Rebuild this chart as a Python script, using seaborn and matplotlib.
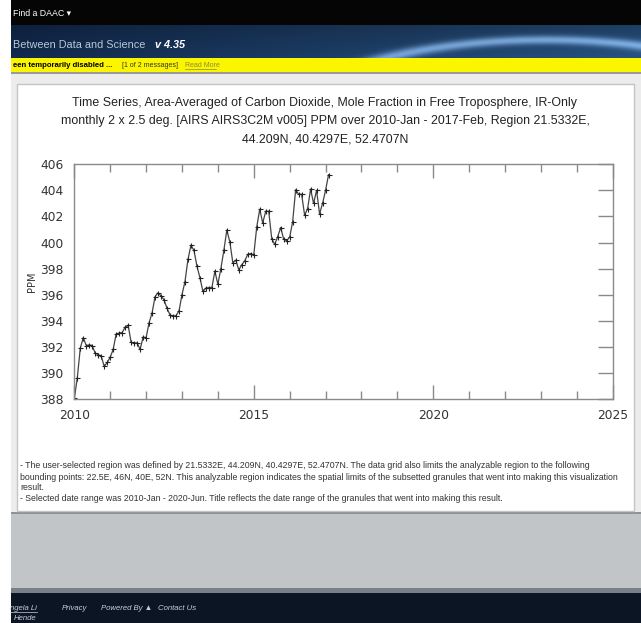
import numpy as np
import pandas as pd
import matplotlib
matplotlib.use("Agg")
import matplotlib.pyplot as plt
import seaborn as sns
from matplotlib.patches import Rectangle
from matplotlib.ticker import MultipleLocator, FixedLocator

# ---- data: monthly area-averaged CO2 (ppm), 2010-Jan .. 2017-Feb ----
start_month = "2010-01"
ppm = [
    388.05, 389.6, 391.9, 392.7, 392.1, 392.15, 392.1, 391.5, 391.4, 391.3, 390.5, 390.8,
    391.2, 391.8, 393.0, 393.05, 393.1, 393.5, 393.65, 392.35, 392.3, 392.3, 391.8, 392.75,
    392.7, 393.85, 394.6, 395.85, 396.15, 395.9, 395.6, 394.95, 394.45, 394.35, 394.4, 394.75,
    396.0, 397.0, 398.7, 399.8, 399.4, 398.2, 397.3, 396.25, 396.5, 396.55, 396.55, 397.8,
    396.8, 398.0, 399.4, 400.95, 400.05, 398.45, 398.65, 397.9, 398.3, 398.6, 399.1, 399.15,
    399.05, 401.2, 402.55, 401.5, 402.4, 402.4, 400.3, 399.85, 400.45, 401.15, 400.25, 400.15,
    400.4, 401.6, 404.05, 403.7, 403.7, 402.1, 402.6, 404.1, 403.0, 404.0, 402.2, 403.0,
    404.0, 405.2,
]
x_major = [2010, 2015, 2020, 2025]
y_ticks = [388, 390, 392, 394, 396, 398, 400, 402, 404, 406]

title_lines = [
    "Time Series, Area-Averaged of Carbon Dioxide, Mole Fraction in Free Troposphere, IR-Only",
    "monthly 2 x 2.5 deg. [AIRS AIRS3C2M v005] PPM over 2010-Jan - 2017-Feb, Region 21.5332E,",
    "44.209N, 40.4297E, 52.4707N",
]
notes = [
    "- The user-selected region was defined by 21.5332E, 44.209N, 40.4297E, 52.4707N. The data grid also limits the analyzable region to the following",
    "bounding points: 22.5E, 46N, 40E, 52N. This analyzable region indicates the spatial limits of the subsetted granules that went into making this visualization",
    "result.",
    "- Selected date range was 2010-Jan - 2020-Jun. Title reflects the date range of the granules that went into making this result.",
]

dates = pd.period_range(start_month, periods=len(ppm), freq="M")
df = pd.DataFrame({
    "year": dates.year + (dates.month - 1) / 12.0,
    "ppm": ppm,
})

W, H = 641, 623
fig = plt.figure(figsize=(W / 100, H / 100), dpi=100)

# page layer in pixel coordinates (origin top-left)
bg = fig.add_axes([0, 0, 1, 1], zorder=0)
bg.set_xlim(0, W)
bg.set_ylim(H, 0)
bg.axis("off")

SANS = ["Liberation Sans", "DejaVu Sans"]


def box(x0, y0, x1, y1, color, **kw):
    bg.add_patch(Rectangle((x0, y0), x1 - x0, y1 - y0, facecolor=color,
                           edgecolor=kw.pop("edgecolor", "none"), **kw))


def txt(x, y, s, **kw):
    kw.setdefault("va", "center")
    kw.setdefault("family", SANS)
    bg.text(x, y, s, **kw)


L = 11
box(0, 0, W, H, "white")
box(L, 0, W, 25, "#050505")

# banner with a soft horizon glow
bw, bh = W - L, 33
xx, yy = np.meshgrid(np.linspace(0, 1, bw), np.linspace(0, 1, bh))
c0 = np.array([0x10, 0x26, 0x46]) / 255
c1 = np.array([0x24, 0x4a, 0x74]) / 255
img = c0[None, None, :] * (1 - xx[..., None]) + c1[None, None, :] * xx[..., None]
img = img * (0.85 + 0.25 * yy[..., None])
d = np.sqrt(((xx - 0.85) / 0.42) ** 2 + ((yy - 3.2) / 2.75) ** 2)
glow = np.exp(-((d - 1.0) / 0.05) ** 2) * 0.45
img = np.clip(img + glow[..., None] * np.array([0.75, 0.85, 0.95]), 0, 1)
bg.imshow(img, extent=(L, W, 58, 25), aspect="auto", zorder=1)

box(L, 58, W, 72, "#fbf600", zorder=2)
box(L, 72, W, 74, "#9a9a9a", zorder=2)
box(L, 74, W, 512, "#ececec", zorder=2)
box(17, 84, 634, 511, "white", edgecolor="#c4c4c4", linewidth=1, zorder=3)
box(L, 512, W, 592, "#c2c5c8", zorder=2)
box(L, 512, W, 514, "#8e9196", zorder=2)
box(L, 588, W, 594, "#7a8088", zorder=2)
box(L, 593, W, H, "#0b1524", zorder=2)

txt(13, 13, "Find a DAAC \u25be", color="white", fontsize=6.3, zorder=4)
txt(13, 44.5, "Between Data and Science", color="#b9c8d8", fontsize=7.8, zorder=4)
txt(155, 44.5, "v 4.35", color="white", fontsize=7.8, style="italic", weight="bold", zorder=4)
txt(13, 65.5, "een temporarily disabled ...", color="black", fontsize=5.6, weight="bold", zorder=4)
txt(122, 65.5, "[1 of 2 messages]", color="#333333", fontsize=5.0, zorder=4)
txt(185, 65.5, "Read More", color="#8a8a3a", fontsize=5.0, zorder=4)
bg.plot([185, 216], [69, 69], color="#8a8a3a", lw=0.5, zorder=4)

for i, line in enumerate(title_lines):
    txt(325, 103 + 18 * i, line, ha="center", color="#222222", fontsize=8.9, zorder=4)

for y, line in zip([465, 477, 487.5, 498.5], notes):
    txt(20, y, line, color="#333333", fontsize=6.35, zorder=4)

fk = dict(color="#c9cfd8", fontsize=5.6, style="italic", zorder=4)
txt(10, 608, "ngela Li", **fk)
bg.plot([10, 37], [612, 612], color="#c9cfd8", lw=0.5, zorder=4)
txt(14, 619, "Hende", **fk)
txt(62, 608, "Privacy", **fk)
txt(101, 608, "Powered By \u25b2", **fk)
txt(158, 608, "Contact Us", **fk)

# ---- chart ----
x0, x1, y0, y1 = 74.3, 612.7, 164.3, 399.0
ax = fig.add_axes([x0 / W, 1 - y1 / H, (x1 - x0) / W, (y1 - y0) / H], zorder=5)
sns.lineplot(data=df, x="year", y="ppm", ax=ax, color="#444444", linewidth=0.9,
             marker="+", markersize=3.6, markeredgewidth=0.8, markeredgecolor="#222222")
ax.set_xlim(2010, 2025)
ax.set_ylim(388, 406)
ax.set_facecolor("white")
ax.xaxis.set_major_locator(FixedLocator(x_major))
ax.xaxis.set_minor_locator(MultipleLocator(1))
ax.yaxis.set_major_locator(FixedLocator(y_ticks))
ax.set_xlabel("")
ax.set_ylabel("PPM", fontsize=7, color="#333333", family="DejaVu Sans", labelpad=2)
for s in ax.spines.values():
    s.set_color("#8a8a8a")
    s.set_linewidth(1.0)
ax.tick_params(axis="x", which="major", direction="in", length=10, width=1, color="#8a8a8a",
               top=True, bottom=True, labelsize=8.8, labelcolor="#333333", pad=7)
ax.tick_params(axis="x", which="minor", direction="in", length=6, width=1, color="#8a8a8a",
               top=True, bottom=True)
ax.tick_params(axis="y", which="major", direction="in", length=11, width=1, color="#8a8a8a",
               left=False, right=True, labelleft=True, labelsize=8.8, labelcolor="#333333", pad=8)
for lab in ax.get_xticklabels() + ax.get_yticklabels():
    lab.set_family("DejaVu Sans")

fig.savefig("out.png", dpi=100)
